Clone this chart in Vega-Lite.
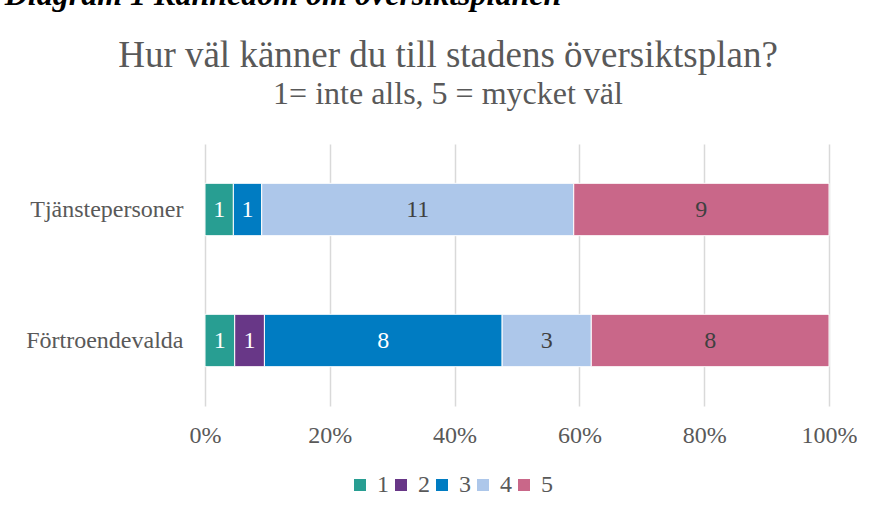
{
  "$schema": "https://vega.github.io/schema/vega-lite/v6.json",
  "padding": {"left": 4, "top": -21, "right": 0, "bottom": 0},
  "background": "white",
  "title": {
    "text": "Diagram 1 Kännedom om översiktsplanen",
    "anchor": "start",
    "font": "Liberation Serif",
    "fontSize": 32,
    "fontWeight": "bold",
    "fontStyle": "italic",
    "color": "black",
    "dx": -21,
    "offset": 25
  },
  "data": {
    "values": [
      {"group": "Tjänstepersoner", "level": "1", "count": 1},
      {"group": "Tjänstepersoner", "level": "3", "count": 1},
      {"group": "Tjänstepersoner", "level": "4", "count": 11},
      {"group": "Tjänstepersoner", "level": "5", "count": 9},
      {"group": "Förtroendevalda", "level": "1", "count": 1},
      {"group": "Förtroendevalda", "level": "2", "count": 1},
      {"group": "Förtroendevalda", "level": "3", "count": 8},
      {"group": "Förtroendevalda", "level": "4", "count": 3},
      {"group": "Förtroendevalda", "level": "5", "count": 8}
    ]
  },
  "vconcat": [
    {
      "width": 624,
      "height": 262,
      "title": {
        "text": "Hur väl känner du till stadens översiktsplan?",
        "subtitle": "1= inte alls, 5 = mycket väl",
        "font": "Liberation Serif",
        "subtitleFont": "Liberation Serif",
        "fontSize": 37,
        "subtitleFontSize": 32,
        "fontWeight": "normal",
        "color": "#595959",
        "subtitleColor": "#595959",
        "anchor": "middle",
        "dx": -69,
        "offset": 33,
        "subtitlePadding": 4
      },
      "transform": [
        {"stack": "count", "groupby": ["group"], "offset": "normalize", "sort": [{"field": "level", "order": "ascending"}], "as": ["x0", "x1"]}
      ],
      "layer": [
        {
          "mark": {"type": "bar", "stroke": "white", "strokeWidth": 1},
          "encoding": {
            "y": {"field": "group", "type": "nominal", "sort": ["Tjänstepersoner", "Förtroendevalda"], "scale": {"paddingInner": 0.6, "paddingOuter": 0.3}, "axis": {"title": null, "domain": false, "ticks": false, "labelPadding": 22, "labelFont": "Liberation Serif", "labelFontSize": 24, "labelColor": "#595959"}},
            "x": {"field": "x0", "type": "quantitative", "scale": {"domain": [0, 1], "nice": false}, "axis": {"title": null, "format": ".0%", "values": [0, 0.2, 0.4, 0.6, 0.8, 1], "labelFlush": false, "domain": false, "ticks": false, "grid": true, "gridColor": "#d9d9d9", "gridWidth": 1.5, "labelPadding": 17, "labelFont": "Liberation Serif", "labelFontSize": 24, "labelColor": "#595959"}},
            "x2": {"field": "x1"},
            "color": {
              "field": "level",
              "type": "nominal",
              "scale": {"domain": ["1", "2", "3", "4", "5"], "range": ["#289E92", "#683787", "#007CC2", "#ADC7EA", "#C96789"]},
              "legend": {
                "title": null,
                "orient": "none",
                "direction": "horizontal",
                "legendX": 143,
                "legendY": 329,
                "symbolType": "square",
                "symbolSize": 144,
                "symbolStrokeWidth": 0,
                "labelFont": "Liberation Serif",
                "labelFontSize": 24,
                "labelColor": "#595959",
                "labelOffset": 5,
                "columnPadding": 0
              }
            }
          }
        },
        {
          "transform": [
            {"fold": ["x0", "x1"], "as": ["k", "v"]},
            {"aggregate": [{"op": "mean", "field": "v", "as": "mid"}], "groupby": ["group", "level", "count"]}
          ],
          "mark": {"type": "text", "font": "Liberation Serif", "fontSize": 24, "baseline": "middle", "align": "center"},
          "encoding": {
            "y": {"field": "group", "type": "nominal", "sort": ["Tjänstepersoner", "Förtroendevalda"]},
            "x": {"field": "mid", "type": "quantitative"},
            "text": {"field": "count", "type": "quantitative"},
            "color": {"condition": {"test": "datum.level <= '3'", "value": "white"}, "value": "#404040"}
          }
        }
      ]
    }
  ],
  "config": {
    "view": {"stroke": null}
  }
}
